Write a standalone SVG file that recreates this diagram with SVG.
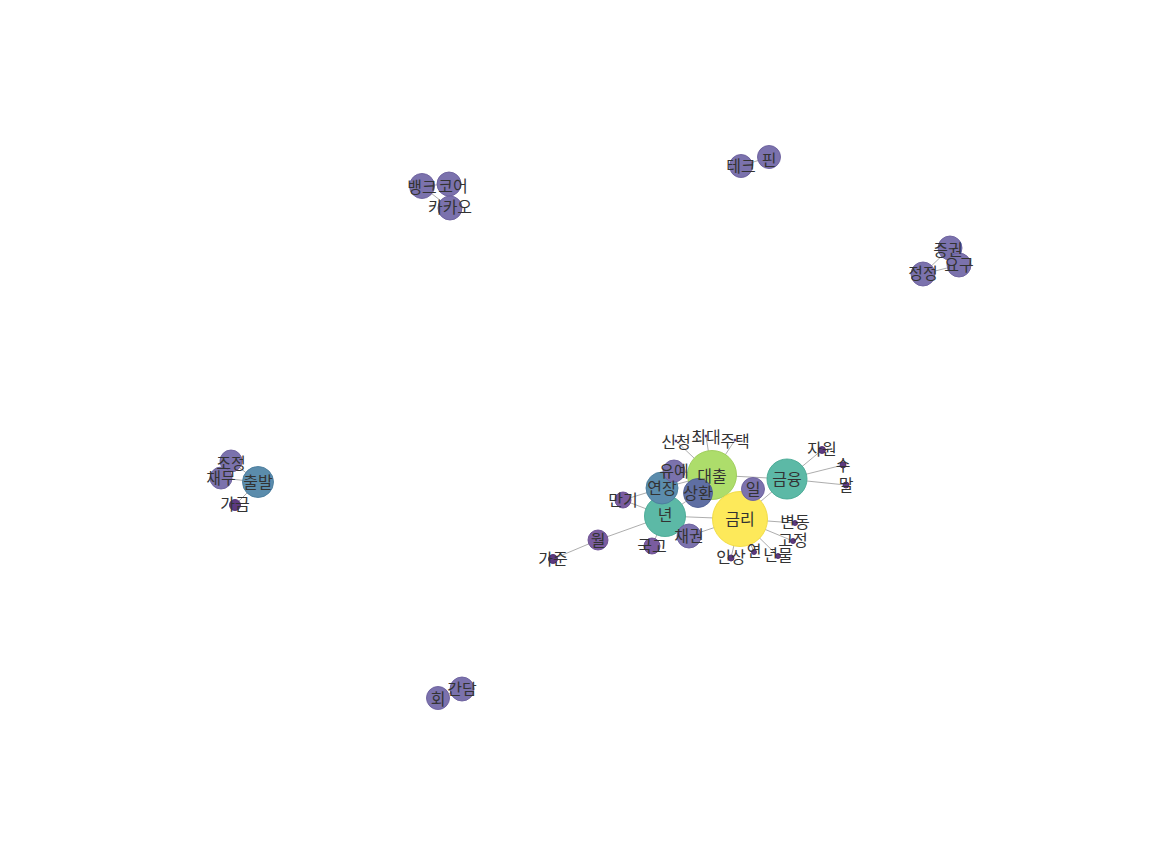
<svg xmlns="http://www.w3.org/2000/svg" width="1152" height="864" viewBox="0 0 1152 864">
<style>
.e{stroke:#999;stroke-width:1;stroke-opacity:0.8;fill:none}
.n{stroke-opacity:0.9;stroke-width:1}
.p1{fill:#7b72ad;stroke:#6a5e9c}
.p2{fill:#7a5c9f;stroke:#674a8e}
.p3{fill:#5d3a80;stroke:#4d2c70}
.bl1{fill:#5f6fa3;stroke:#4e5e93}
.bl2{fill:#5b8cac;stroke:#4a7c9c}
.tl{fill:#5cb9a6;stroke:#47a894}
.gr{fill:#addd6b;stroke:#9ccc58}
.ye{fill:#fde95a;stroke:#f0da40}
text{font-family:"Noto Sans CJK KR","Noto Sans",sans-serif;font-size:16px;fill:#333;text-anchor:middle;dominant-baseline:central}
</style>
<rect width="1152" height="864" fill="#fff"/>
<g id="edges">
<line class="e" x1="712" y1="475" x2="676" y2="441"/>
<line class="e" x1="712" y1="475" x2="706" y2="436"/>
<line class="e" x1="712" y1="475" x2="735" y2="440"/>
<line class="e" x1="712" y1="475" x2="787" y2="479"/>
<line class="e" x1="712" y1="475" x2="740" y2="519"/>
<line class="e" x1="712" y1="475" x2="674" y2="471"/>
<line class="e" x1="712" y1="475" x2="662" y2="488"/>
<line class="e" x1="712" y1="475" x2="698" y2="493"/>
<line class="e" x1="787" y1="479" x2="822" y2="450"/>
<line class="e" x1="787" y1="479" x2="843" y2="465"/>
<line class="e" x1="787" y1="479" x2="846" y2="485"/>
<line class="e" x1="787" y1="479" x2="740" y2="519"/>
<line class="e" x1="740" y1="519" x2="795" y2="523"/>
<line class="e" x1="740" y1="519" x2="793" y2="541"/>
<line class="e" x1="740" y1="519" x2="754" y2="552"/>
<line class="e" x1="740" y1="519" x2="778" y2="556"/>
<line class="e" x1="740" y1="519" x2="731" y2="558"/>
<line class="e" x1="740" y1="519" x2="665" y2="516"/>
<line class="e" x1="740" y1="519" x2="689" y2="536"/>
<line class="e" x1="740" y1="519" x2="753" y2="489"/>
<line class="e" x1="665" y1="516" x2="623" y2="500"/>
<line class="e" x1="665" y1="516" x2="598" y2="540"/>
<line class="e" x1="665" y1="516" x2="652" y2="546"/>
<line class="e" x1="665" y1="516" x2="662" y2="488"/>
<line class="e" x1="665" y1="516" x2="698" y2="493"/>
<line class="e" x1="665" y1="516" x2="689" y2="536"/>
<line class="e" x1="662" y1="488" x2="623" y2="500"/>
<line class="e" x1="598" y1="540" x2="553" y2="559"/>
<line class="e" x1="422" y1="186" x2="450" y2="208"/>
<line class="e" x1="449" y1="184" x2="450" y2="208"/>
<line class="e" x1="422" y1="186" x2="449" y2="184"/>
<line class="e" x1="741" y1="166" x2="769" y2="157"/>
<line class="e" x1="923" y1="274" x2="950" y2="248"/>
<line class="e" x1="923" y1="274" x2="959" y2="265"/>
<line class="e" x1="950" y1="248" x2="959" y2="265"/>
<line class="e" x1="231" y1="461" x2="258" y2="482"/>
<line class="e" x1="221" y1="478" x2="258" y2="482"/>
<line class="e" x1="235" y1="505" x2="258" y2="482"/>
<line class="e" x1="438" y1="698" x2="462" y2="689"/>
</g>
<g id="n-dayul"><circle class="n gr" cx="712" cy="475" r="24.5"/></g>
<g id="n-geumri"><circle class="n ye" cx="740" cy="519" r="27.5"/></g>
<g id="n-geumyung"><circle class="n tl" cx="787" cy="479" r="20"/></g>
<g id="n-nyeon"><circle class="n tl" cx="665" cy="516" r="20.5"/></g>
<g id="n-yeonjang"><circle class="n bl2" cx="662" cy="488" r="16"/></g>
<g id="n-yuye"><circle class="n p1" cx="674" cy="471" r="11"/></g>
<g id="n-sanghwan"><circle class="n bl1" cx="698" cy="493" r="14.5"/></g>
<g id="n-il"><circle class="n p1" cx="753" cy="489" r="11.5"/></g>
<g id="n-chaegwon"><circle class="n p1" cx="689" cy="536" r="12"/></g>
<g id="n-mangi"><circle class="n p2" cx="623" cy="500" r="8"/></g>
<g id="n-gukgo"><circle class="n p2" cx="652" cy="546" r="8"/></g>
<g id="n-wol"><circle class="n p2" cx="598" cy="540" r="10"/></g>
<g id="n-gajun"><circle class="n p3" cx="553" cy="559" r="4.5"/></g>
<g id="n-jawon"><circle class="n p3" cx="822" cy="450" r="3.5"/></g>
<g id="n-su"><circle class="n p3" cx="843" cy="465" r="3"/></g>
<g id="n-mal"><circle class="n p3" cx="846" cy="485" r="3"/></g>
<g id="n-byeondong"><circle class="n p3" cx="795" cy="523" r="2.5"/></g>
<g id="n-gojeong"><circle class="n p3" cx="793" cy="541" r="2.5"/></g>
<g id="n-yeon"><circle class="n p3" cx="754" cy="552" r="2.5"/></g>
<g id="n-nyeonmul"><circle class="n p3" cx="778" cy="556" r="2.5"/></g>
<g id="n-insang"><circle class="n p3" cx="731" cy="558" r="3"/></g>
<g id="n-sincheong"><circle class="n p3" cx="676" cy="441" r="1"/></g>
<g id="n-choedae"><circle class="n p3" cx="706" cy="436" r="1"/></g>
<g id="n-jutaek"><circle class="n p3" cx="735" cy="440" r="1"/></g>
<g id="n-bank"><circle class="n p1" cx="422" cy="186" r="12.5"/></g>
<g id="n-core"><circle class="n p1" cx="449" cy="184" r="12"/></g>
<g id="n-kakao"><circle class="n p1" cx="450" cy="208" r="12"/></g>
<g id="n-tech"><circle class="n p1" cx="741" cy="166" r="11.5"/></g>
<g id="n-fin"><circle class="n p1" cx="769" cy="157" r="11.5"/></g>
<g id="n-jeunggwon"><circle class="n p1" cx="950" cy="248" r="12"/></g>
<g id="n-yogu"><circle class="n p1" cx="959" cy="265" r="12"/></g>
<g id="n-jeongjeong"><circle class="n p1" cx="923" cy="274" r="12"/></g>
<g id="n-jojeong"><circle class="n p1" cx="231" cy="461" r="11"/></g>
<g id="n-chaemu"><circle class="n p1" cx="221" cy="478" r="11"/></g>
<g id="n-chulbal"><circle class="n bl2" cx="258" cy="482" r="15.5"/></g>
<g id="n-gageum"><circle class="n p3" cx="235" cy="505" r="5.5"/></g>
<g id="n-hoe"><circle class="n p1" cx="438" cy="698" r="11.5"/></g>
<g id="n-gandam"><circle class="n p1" cx="462" cy="689" r="12"/></g>
<g id="labels">
<text x="712" y="475">대출</text>
<text x="740" y="518">금리</text>
<text x="787" y="478">금융</text>
<text x="665" y="514">년</text>
<text x="662" y="487">연장</text>
<text x="674" y="470">유예</text>
<text x="698" y="492">상환</text>
<text x="753" y="488">일</text>
<text x="689" y="535">채권</text>
<text x="623" y="499">만기</text>
<text x="652" y="545">국고</text>
<text x="598" y="539">월</text>
<text x="553" y="558">가준</text>
<text x="822" y="448">자원</text>
<text x="843" y="464">수</text>
<text x="846" y="484">말</text>
<text x="795" y="521">변동</text>
<text x="793" y="539">고정</text>
<text x="754" y="550">연</text>
<text x="778" y="554">년물</text>
<text x="731" y="556">인상</text>
<text x="676" y="441">신청</text>
<text x="706" y="436">최대</text>
<text x="735" y="440">주택</text>
<text x="422" y="186">뱅크</text>
<text x="453" y="185">코어</text>
<text x="450" y="206">카카오</text>
<text x="741" y="165">테크</text>
<text x="769" y="159">핀</text>
<text x="948" y="249">증권</text>
<text x="959" y="264">요구</text>
<text x="923" y="272">정정</text>
<text x="231" y="462">조정</text>
<text x="221" y="477">채무</text>
<text x="258" y="481">출발</text>
<text x="235" y="503">가금</text>
<text x="438" y="698">회</text>
<text x="462" y="688">간담</text>
</g>
</svg>
